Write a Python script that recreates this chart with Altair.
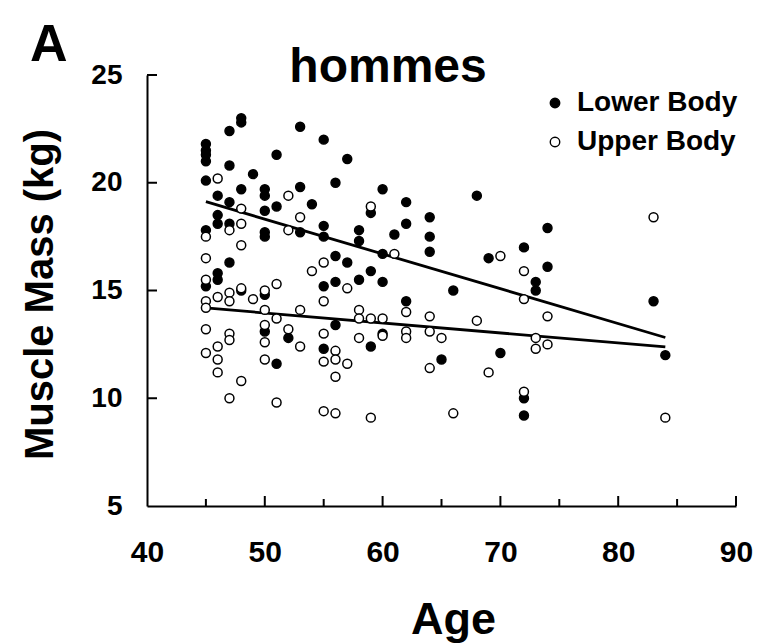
import altair as alt
import pandas as pd

# ---- data -------------------------------------------------------------
lower_age = [45, 45, 45, 45, 45, 45, 45,
             46, 46, 46, 46, 46,
             47, 47, 47, 47, 47,
             48, 48, 48, 48,
             49,
             50, 50, 50, 50, 50, 50, 50,
             51, 51, 51,
             52,
             53, 53, 53,
             54,
             55, 55, 55, 55, 55,
             56, 56, 56, 56,
             57, 57,
             58, 58, 58,
             59, 59, 59,
             60, 60, 60, 60,
             61,
             62, 62, 62,
             64, 64, 64,
             65, 66, 68, 69, 70,
             72, 72, 72,
             73, 73,
             74, 74,
             83, 84]
lower_mass = [21.8, 21.5, 21.3, 21.0, 20.1, 17.8, 15.2,
              19.4, 18.5, 18.1, 15.8, 15.5,
              22.4, 20.8, 19.1, 18.1, 16.3,
              23.0, 22.8, 19.7, 15.0,
              20.4,
              19.7, 19.4, 18.7, 17.7, 17.5, 14.8, 13.1,
              21.3, 18.9, 11.6,
              12.8,
              22.6, 19.8, 17.7,
              19.0,
              22.0, 18.0, 17.5, 15.2, 12.3,
              20.0, 16.6, 15.4, 13.4,
              21.1, 16.3,
              17.8, 17.3, 15.5,
              18.6, 15.9, 12.4,
              19.7, 16.7, 15.4, 13.0,
              17.6,
              19.1, 18.1, 14.5,
              18.4, 17.5, 16.8,
              11.8, 15.0, 19.4, 16.5, 12.1,
              17.0, 10.0, 9.2,
              15.4, 15.0,
              17.9, 16.1,
              14.5, 12.0]

upper_age = [45, 45, 45, 45, 45, 45, 45,
             46, 46, 46, 46, 46,
             47, 47, 47, 47, 47, 47,
             48, 48, 48, 48, 48,
             49,
             50, 50, 50, 50, 50,
             51, 51, 51,
             52, 52, 52,
             53, 53, 53,
             54,
             55, 55, 55, 55, 55,
             56, 56, 56, 56,
             57, 57,
             58, 58, 58,
             59, 59, 59,
             60, 60,
             61,
             62, 62, 62,
             64, 64, 64,
             65, 66, 68, 69, 70,
             72, 72, 72,
             73, 73,
             74, 74,
             83, 84]
upper_mass = [17.5, 16.5, 15.5, 14.5, 14.2, 13.2, 12.1,
              20.2, 14.7, 12.4, 11.8, 11.2,
              17.8, 14.9, 14.5, 13.0, 12.7, 10.0,
              18.8, 18.1, 17.1, 15.1, 10.8,
              14.6,
              15.0, 14.1, 13.4, 12.6, 11.8,
              15.3, 13.7, 9.8,
              19.4, 17.8, 13.2,
              18.4, 14.1, 12.4,
              15.9,
              16.3, 14.5, 13.0, 11.7, 9.4,
              12.2, 11.8, 11.0, 9.3,
              15.1, 11.6,
              14.1, 13.7, 12.8,
              18.9, 13.7, 9.1,
              13.7, 12.9,
              16.7,
              14.0, 13.1, 12.8,
              13.8, 13.1, 11.4,
              12.8, 9.3, 13.6, 11.2, 16.6,
              15.9, 14.6, 10.3,
              12.8, 12.3,
              13.8, 12.5,
              18.4, 9.1]

# fitted lines: value at the first and last age
fit_age = [45, 84]
lower_fit = [19.12, 12.82]
upper_fit = [14.19, 12.38]

regions = ["Lower Body", "Upper Body"]
x_major = [50, 60, 70, 80, 90]
x_minor = [45, 55, 65, 75, 85]
y_major = [10, 15, 20, 25]

panel_letter = ["A"]
panel_title = ["hommes"]

# ---- tables -----------------------------------------------------------
points = pd.DataFrame({
    "Age": lower_age + upper_age,
    "Mass": lower_mass + upper_mass,
    "Region": [regions[0]] * len(lower_age) + [regions[1]] * len(upper_age),
})
fits = pd.DataFrame({
    "Age": fit_age + fit_age,
    "Mass": lower_fit + upper_fit,
    "Region": [regions[0]] * 2 + [regions[1]] * 2,
})

W, H = 589, 431
FONT = "Liberation Sans"

x_scale = alt.Scale(domain=[40, 90], nice=False, zero=False)
y_scale = alt.Scale(domain=[5, 25], nice=False, zero=False)

x_axis = alt.Axis(
    values=[40, 50, 60, 70, 80, 90], ticks=False, tickSize=0, grid=False,
    domainColor="black", domainWidth=2,
    labelFont=FONT, labelFontSize=30, labelFontWeight="bold", labelColor="black",
    labelPadding=31, labelFlush=False, labelOverlap=False,
    title="Age", titleFont=FONT, titleFontSize=45, titleFontWeight="bold",
    titleColor="black", titleAlign="center", titleBaseline="alphabetic",
    titleX=306, titleY=127,
)
y_axis = alt.Axis(
    values=[5, 10, 15, 20, 25], ticks=False, tickSize=0, grid=False,
    domainColor="black", domainWidth=2,
    labelFont=FONT, labelFontSize=28, labelFontWeight="bold", labelColor="black",
    labelPadding=25, labelFlush=False, labelOverlap=False,
    title="Muscle Mass (kg)", titleFont=FONT, titleFontSize=40,
    titleFontWeight="bold", titleColor="black",
    titleAngle=-90, titleAlign="center", titleBaseline="alphabetic",
    titleX=-95, titleY=219,
)

scatter = alt.Chart(points).mark_point(
    filled=True, shape="circle", size=80, stroke="black",
    strokeWidth=1.5, opacity=1,
).encode(
    x=alt.X("Age:Q", scale=x_scale, axis=x_axis),
    y=alt.Y("Mass:Q", scale=y_scale, axis=y_axis),
    fill=alt.Fill(
        "Region:N",
        scale=alt.Scale(domain=regions, range=["black", "white"]),
        legend=alt.Legend(
            title=None, orient="none", legendX=394, legendY=14,
            padding=0, symbolType="circle", symbolSize=90,
            symbolStrokeColor="black", symbolStrokeWidth=1.4, symbolOpacity=1,
            labelFont=FONT, labelFontSize=28, labelFontWeight="bold",
            labelColor="black", labelOffset=8, rowPadding=11, labelLimit=400,
        ),
    ),
)

fit_lines = alt.Chart(fits).mark_line(color="black", strokeWidth=2.8).encode(
    x=alt.X("Age:Q", scale=x_scale),
    y=alt.Y("Mass:Q", scale=y_scale),
    detail="Region:N",
)

# inward tick marks
x_major_ticks = alt.Chart(pd.DataFrame({"Age": x_major})).mark_rule(
    color="black", strokeWidth=2).encode(
    x=alt.X("Age:Q", scale=x_scale), y=alt.value(H), y2=alt.value(H - 10))
x_minor_ticks = alt.Chart(pd.DataFrame({"Age": x_minor})).mark_rule(
    color="black", strokeWidth=2).encode(
    x=alt.X("Age:Q", scale=x_scale), y=alt.value(H), y2=alt.value(H - 7))
y_major_ticks = alt.Chart(pd.DataFrame({"Mass": y_major})).mark_rule(
    color="black", strokeWidth=2).encode(
    y=alt.Y("Mass:Q", scale=y_scale), x=alt.value(0), x2=alt.value(10))

letter = alt.Chart(pd.DataFrame({"label": panel_letter})).mark_text(
    font=FONT, fontSize=52, fontWeight="bold", color="black",
    align="left", baseline="alphabetic").encode(
    text="label:N", x=alt.value(-117), y=alt.value(-14))
heading = alt.Chart(pd.DataFrame({"label": panel_title})).mark_text(
    font=FONT, fontSize=48, fontWeight="bold", color="black",
    align="center", baseline="alphabetic").encode(
    text="label:N", x=alt.value(241), y=alt.value(7))

chart = alt.layer(
    x_major_ticks, x_minor_ticks, y_major_ticks, fit_lines, scatter, letter, heading
).properties(
    width=W, height=H,
    autosize=alt.AutoSizeParams(type="none"),
    padding={"left": 147, "top": 75, "right": 31, "bottom": 137},
    background="white",
).configure_view(stroke=None)

chart.save("out.html", embed_options={"renderer": "svg", "actions": False})
